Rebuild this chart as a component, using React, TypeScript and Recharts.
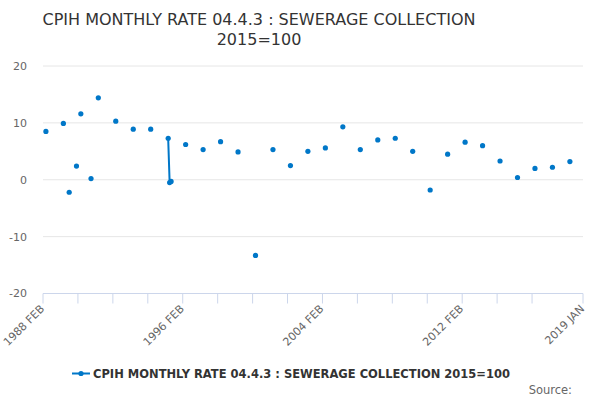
import React from 'react';
import { LineChart, Line, XAxis, YAxis, CartesianGrid } from 'recharts';

const monthNames = ['JAN', 'FEB', 'MAR', 'APR', 'MAY', 'JUN', 'JUL', 'AUG', 'SEP', 'OCT', 'NOV', 'DEC'];
const startYear = 1988;
const startMonth = 1; // FEB
const monthCount = 372; // 1988 FEB .. 2019 JAN

const categories: string[] = [];
for (let k = 0; k < monthCount; k++) {
  const m = startMonth + k;
  categories.push(`${startYear + Math.floor(m / 12)} ${monthNames[m % 12]}`);
}

const obsDates = [
  '1988 APR', '1989 APR', '1989 AUG', '1990 JAN', '1990 APR', '1990 NOV', '1991 APR', '1992 APR',
  '1993 APR', '1994 APR', '1995 APR', '1995 MAY', '1995 JUN', '1996 APR', '1997 APR', '1998 APR',
  '1999 APR', '2000 APR', '2001 APR', '2002 APR', '2003 APR', '2004 APR', '2005 APR', '2006 APR',
  '2007 APR', '2008 APR', '2009 APR', '2010 APR', '2011 APR', '2012 APR', '2013 APR', '2014 APR',
  '2015 APR', '2016 APR', '2017 APR', '2018 APR',
];
const obsValues = [
  8.5, 9.9, -2.2, 2.4, 11.6, 0.2, 14.4, 10.3,
  8.9, 8.9, 7.3, -0.5, -0.3, 6.2, 5.3, 6.7,
  4.9, -13.3, 5.3, 2.5, 5.0, 5.6, 9.3, 5.3,
  7.0, 7.3, 5.0, -1.8, 4.5, 6.6, 6.0, 3.3,
  0.4, 2.0, 2.2, 3.2,
];

const xTicks = [0, 24, 48, 72, 96, 120, 144, 168, 192, 216, 240, 264, 288, 312, 336, 371];
const xLabelTicks = [0, 96, 192, 288, 371];
const yTicks = [-20, -10, 0, 10, 20];

const titleLines = ['CPIH MONTHLY RATE 04.4.3 : SEWERAGE COLLECTION', '2015=100'];
const seriesName = 'CPIH MONTHLY RATE 04.4.3 : SEWERAGE COLLECTION 2015=100';
const COLOR = '#0077c8';

const obsMap = new Map<string, number>();
obsDates.forEach((d, k) => obsMap.set(d, obsValues[k]));
const data = categories.map((c, i) => ({ i, label: c, v: obsMap.has(c) ? obsMap.get(c)! : null }));

const FONT = "'DejaVu Sans', sans-serif";

const XTick = (props: any) => {
  const { x, y, payload } = props;
  if (!xLabelTicks.includes(payload.value)) return <g />;
  const ax = x + 2;
  const ay = y + 4;
  return (
    <text
      x={ax}
      y={ay}
      transform={`rotate(-45 ${ax} ${ay})`}
      textAnchor="end"
      fontSize={11}
      fill="#666666"
      fontFamily={FONT}
    >
      {categories[payload.value]}
    </text>
  );
};

const renderDot = (props: any) => {
  const { cx, cy, payload, index } = props;
  if (payload == null || payload.v == null || cy == null) return <g key={`d${index}`} />;
  return <circle key={`d${index}`} cx={cx} cy={cy} r={2.6} fill={COLOR} stroke="none" />;
};

export default function App() {
  return (
    <div style={{ position: 'relative', width: 600, height: 400, fontFamily: FONT }}>
      <style>{'body{margin:0}'}</style>
      <LineChart width={600} height={400} data={data} margin={{ top: 66, right: 17, bottom: 0, left: 0 }}>
        <CartesianGrid vertical={false} stroke="#e6e6e6" strokeDasharray="" />
        <XAxis
          dataKey="i"
          type="number"
          domain={[0, 371]}
          ticks={xTicks}
          interval={0}
          height={106.5}
          stroke="#ccd6eb"
          tickSize={10}
          tickMargin={2}
          tick={<XTick />}
        />
        <YAxis
          domain={[-20, 20]}
          ticks={yTicks}
          width={43}
          axisLine={false}
          tickLine={false}
          tickSize={0}
          tickMargin={16}
          tick={{ fill: '#666666', fontSize: 11, fontFamily: FONT }}
        />
        <Line
          dataKey="v"
          stroke={COLOR}
          strokeWidth={2}
          dot={renderDot}
          activeDot={false}
          connectNulls={false}
          isAnimationActive={false}
        />
      </LineChart>
      <svg width={600} height={400} style={{ position: 'absolute', left: 0, top: 0, pointerEvents: 'none' }}>
        <text x={259} y={25} textAnchor="middle" fontSize={16} fill="#333333" fontFamily={FONT}>
          {titleLines[0]}
        </text>
        <text x={259} y={45} textAnchor="middle" fontSize={16} fill="#333333" fontFamily={FONT}>
          {titleLines[1]}
        </text>
        <line x1={72} y1={373.5} x2={90} y2={373.5} stroke={COLOR} strokeWidth={2} />
        <circle cx={81} cy={373.5} r={2.6} fill={COLOR} />
        <text
          x={93}
          y={378}
          fontSize={12}
          fontWeight="bold"
          fill="#333333"
          fontFamily={FONT}
          textLength={417}
          lengthAdjust="spacingAndGlyphs"
        >
          {seriesName}
        </text>
        <text x={572} y={394} textAnchor="end" fontSize={11.5} fill="#666666" fontFamily={FONT}>
          Source:
        </text>
      </svg>
    </div>
  );
}
